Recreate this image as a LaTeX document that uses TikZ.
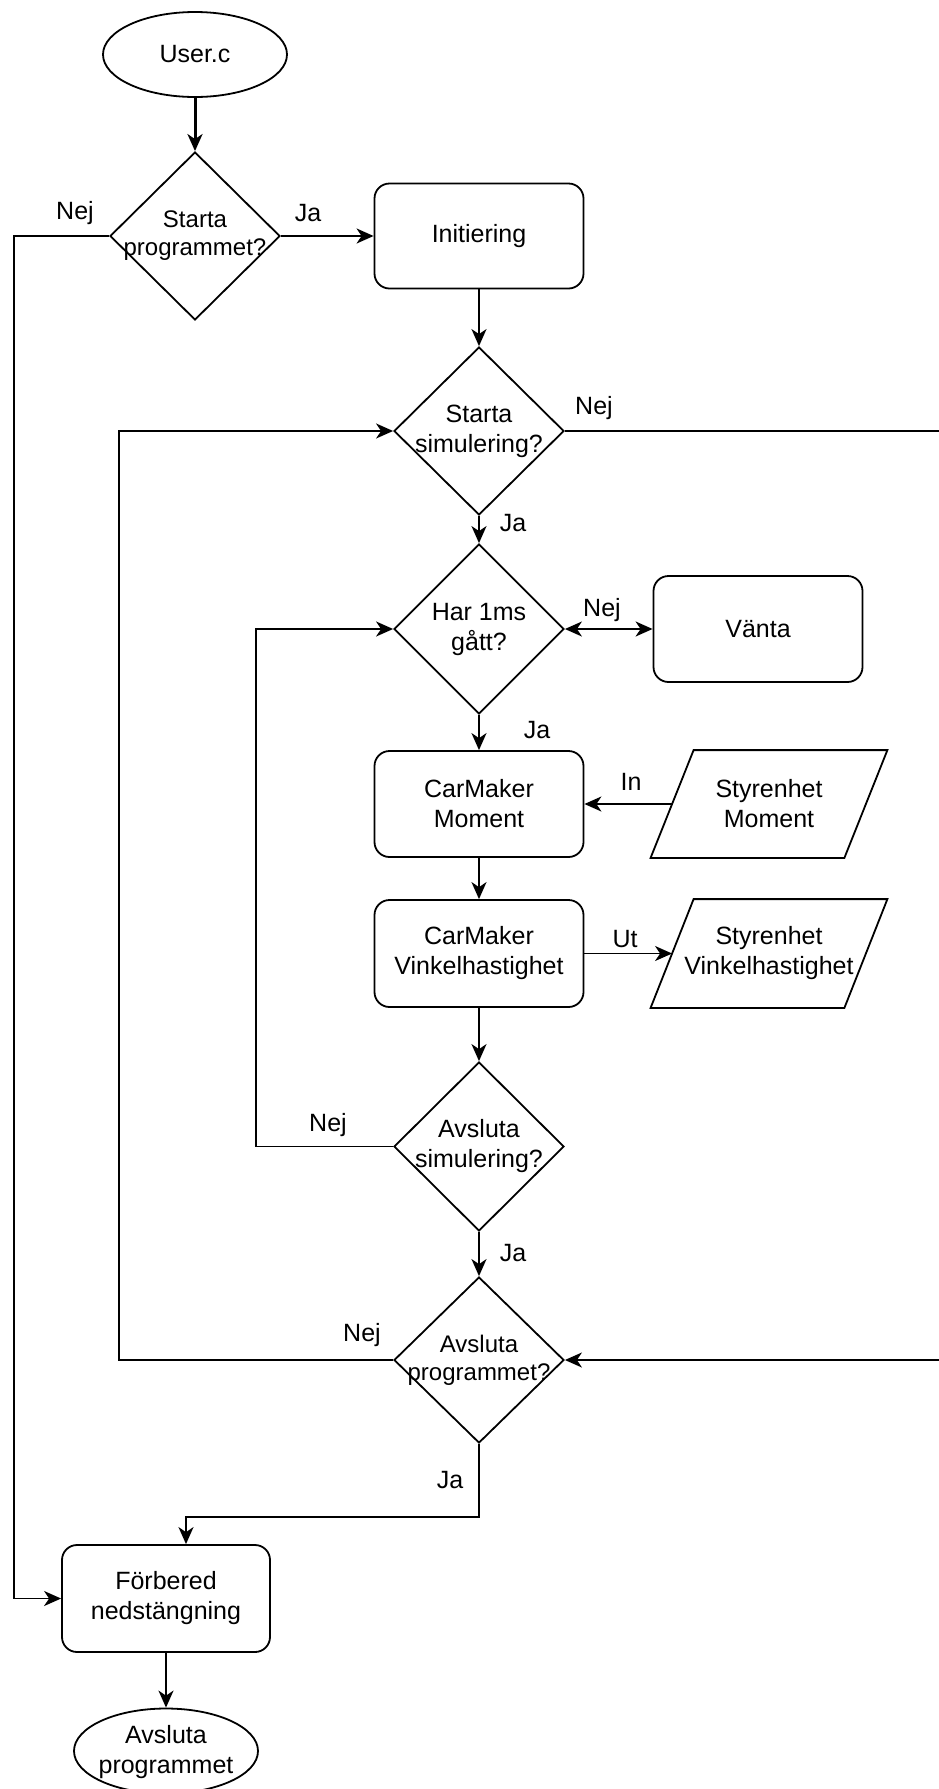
\documentclass[tikz,border=0pt]{standalone}
\usepackage{fontspec}
\setmainfont{Liberation Sans}
\usetikzlibrary{shapes.geometric,arrows.meta}
\begin{document}
\begin{tikzpicture}[x=1pt,y=-1pt,
  line width=1.8pt,
  >={Stealth[length=17pt,width=15pt,inset=5pt]},
  every node/.style={font=\fontsize{25}{30}\selectfont, align=center, inner sep=0pt},
  small/.style={font=\fontsize{24}{28}\selectfont},
  proc/.style={draw, rounded corners=15pt, minimum width=209pt, minimum height=106pt},
  dec/.style={draw, diamond, minimum width=170pt, minimum height=168pt},
  term/.style={draw, ellipse, minimum width=184pt, minimum height=85pt},
  io/.style={minimum width=192pt, minimum height=106pt}
]
\useasboundingbox (0,0) rectangle (938,1789);

% nodes
\node[term] (start) at (195,54.5) {User.c};
\node[dec] (d1) at (195,236) {};
\node[small] (d1t) at (d1) {Starta\\programmet?};
\node[proc, minimum height=105pt] (init) at (479,236) {Initiering};
\node[dec] (d2) at (479,431) {};
\node (d2t) at (d2) {Starta\\simulering?};
\node[dec, minimum height=170pt] (d3) at (479,629) {};
\node (d3t) at (d3) {Har 1ms\\gått?};
\node[proc] (vanta) at (758,629) {Vänta};
\node[proc] (cm) at (479,804) {CarMaker\\Moment};
\node[io] (sm) at (769,804) {Styrenhet\\Moment};
\node[proc, minimum height=107pt] (cv) at (479,953.5) {CarMaker\\Vinkelhastighet};
\node[io, minimum height=107pt] (sv) at (769,953.5) {Styrenhet\\Vinkelhastighet};
\node[dec, minimum height=169pt] (d4) at (479,1146.5) {};
\node (d4t) at (d4) {Avsluta\\simulering?};
\node[dec, minimum height=166pt] (d5) at (479,1360) {};
\node[small] (d5t) at (d5) {Avsluta\\programmet?};
\node[proc, minimum width=208pt, minimum height=107pt] (fb) at (166,1598.5) {Förbered\\nedstängning};
\node[term] (stop) at (166,1751) {};
\node (stopt) at (166,1752) {Avsluta\\programmet};

% parallelograms
\draw ([xshift=21.5pt]sm.north west) -- ([xshift=21.5pt]sm.north east) -- ([xshift=-21.5pt]sm.south east) -- ([xshift=-21.5pt]sm.south west) -- cycle;
\draw ([xshift=21.5pt]sv.north west) -- ([xshift=21.5pt]sv.north east) -- ([xshift=-21.5pt]sv.south east) -- ([xshift=-21.5pt]sv.south west) -- cycle;

% helper coordinates
\coordinate (lx) at (14,0);
\coordinate (rx) at (960,0);
\coordinate (ix) at (256,0);
\coordinate (ox) at (119,0);
\coordinate (jy) at (0,1517);

% connectors
\draw[->, line width=3pt] (start) -- (d1);
\draw[->] (d1.east) -- (init.west);
\draw[->] (d1.west) -- (d1.west -| lx) |- (fb.west);
\draw[->] (init) -- (d2);
\draw[->] (d2.east) -- (d2.east -| rx) |- (d5.east);
\draw[->] (d2) -- (d3);
\draw[<->] (d3.east) -- (vanta.west);
\draw[->] (d3) -- (cm);
\draw[->] (sm.west) -- (cm.east);
\draw[->] (cm) -- (cv);
\draw[->] (cv.east) -- (sv.west);
\draw[->] (cv) -- (d4);
\draw[->] (d4.west) -- (d4.west -| ix) |- (d3.west);
\draw[->] (d4) -- (d5);
\draw[->] (d5.west) -- (d5.west -| ox) |- (d2.west);
\draw[->] (d5.south) -- (d5.south |- jy) -| ([xshift=20pt]fb.north);
\draw[->] (fb) -- (stop);

% labels
\node (l1) at (75,213) {Nej};
\node (l2) at (308,213) {Ja};
\node (l3) at (594,408) {Nej};
\node (l4) at (513,523) {Ja};
\node (l5) at (602,610) {Nej};
\node (l6) at (537,730) {Ja};
\node (l7) at (631,782) {In};
\node (l8) at (625,939) {Ut};
\node (l9) at (328,1125) {Nej};
\node (l10) at (513,1253) {Ja};
\node (l11) at (362,1335) {Nej};
\node (l12) at (450,1480) {Ja};
\end{tikzpicture}
\end{document}
